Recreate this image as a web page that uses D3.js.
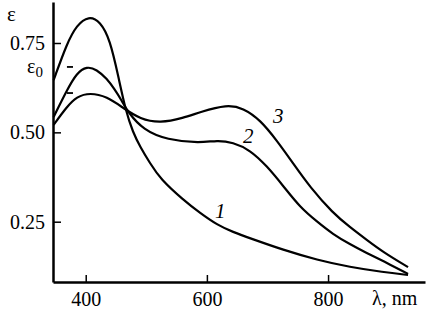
<!DOCTYPE html>
<html>
<head>
<meta charset="utf-8">
<script src="https://cdn.jsdelivr.net/npm/d3@7"></script>
<style>
  body { margin: 0; background: #fff; }
  svg text { font-family: "Liberation Serif", "Times New Roman", "DejaVu Serif", serif !important; fill: #000; }
</style>
</head>
<body>
<script>
var width = 436;
var height = 313;

// data (wavelength nm, epsilon)
var wl1 = [347, 369, 385, 405, 424, 440, 454, 466, 478, 490, 506, 523, 561, 589, 617, 643, 671, 726, 782, 836, 891, 932];
var eps1 = [0.646, 0.749, 0.800, 0.826, 0.810, 0.760, 0.655, 0.560, 0.500, 0.459, 0.414, 0.370, 0.311, 0.274, 0.241, 0.221, 0.204, 0.171, 0.143, 0.123, 0.109, 0.101];

var wl2 = [347, 369, 385, 402, 418, 435, 447, 459, 470, 495, 534, 589, 617, 643, 671, 699, 726, 754, 782, 808, 836, 864, 891, 932];
var eps2 = [0.543, 0.618, 0.666, 0.685, 0.676, 0.650, 0.622, 0.590, 0.556, 0.507, 0.479, 0.470, 0.478, 0.472, 0.451, 0.406, 0.350, 0.290, 0.250, 0.215, 0.187, 0.162, 0.140, 0.104];

var wl3 = [347, 369, 385, 407, 435, 462, 490, 523, 561, 589, 633, 660, 688, 716, 742, 770, 808, 836, 864, 891, 932];
var eps3 = [0.521, 0.572, 0.600, 0.611, 0.600, 0.568, 0.537, 0.526, 0.540, 0.557, 0.578, 0.568, 0.535, 0.476, 0.414, 0.347, 0.274, 0.235, 0.199, 0.165, 0.123];

var xTicks = [400, 600, 800];
var yTicks = [0.25, 0.50, 0.75];
var eps0 = 0.683;      // peak level of curve 2
var epsMark = 0.610;   // peak level of curve 3

var svg = d3.select("body").append("svg")
    .attr("width", width)
    .attr("height", height);

svg.append("rect").attr("width", width).attr("height", height).attr("fill", "white");

var x = d3.scaleLinear().domain([346, 960]).range([53, 425]);
var y = d3.scaleLinear().domain([0.0813, 0.8647]).range([282, 2]);

//axes
svg.append("g")
    .attr("transform", "translate(0,282)")
    .call(d3.axisBottom(x).tickValues(xTicks).tickSize(-7).tickPadding(10).tickSizeOuter(0));
svg.append("g")
    .attr("transform", "translate(53,0)")
    .call(d3.axisLeft(y).tickValues(yTicks).tickFormat(d3.format(".2f")).tickSize(-8).tickPadding(8).tickSizeOuter(0));

svg.selectAll(".domain").attr("stroke", "#000").attr("stroke-width", 2.5);
svg.selectAll(".tick line").attr("stroke", "#000").attr("stroke-width", 1.5);
svg.selectAll(".tick text")
    .attr("font-size", 20)
    .attr("fill", "#000");

//curves
var line = d3.line()
    .x(function(d) { return x(d[0]); })
    .y(function(d) { return y(d[1]); })
    .curve(d3.curveBasis);

[[wl1, eps1], [wl2, eps2], [wl3, eps3]].forEach(function(s) {
  svg.append("path")
    .datum(d3.zip(s[0], s[1]))
    .attr("d", line)
    .attr("fill", "none")
    .attr("stroke", "#000")
    .attr("stroke-width", 2.2);
});

//little dashes for the peak levels
[eps0, epsMark].forEach(function(v) {
  svg.append("line")
    .attr("x1", x(369)).attr("x2", x(379))
    .attr("y1", y(v)).attr("y2", y(v))
    .attr("stroke", "#000").attr("stroke-width", 1.8);
});

//labels
svg.append("text").attr("x", 7).attr("y", 21).attr("font-size", 21).text("ε");

var e0 = svg.append("text").attr("x", 27).attr("y", 73).attr("font-size", 20);
e0.append("tspan").text("ε");
e0.append("tspan").attr("font-size", 15).attr("dy", 4).text("0");

svg.append("text").attr("x", 372).attr("y", 305).attr("font-size", 20).text("λ, nm");

svg.append("text").attr("x", 215).attr("y", 218).attr("font-size", 21).attr("font-style", "italic").text("1");
svg.append("text").attr("x", 243).attr("y", 143).attr("font-size", 21).attr("font-style", "italic").text("2");
svg.append("text").attr("x", 273).attr("y", 123).attr("font-size", 21).attr("font-style", "italic").text("3");
</script>
</body>
</html>
